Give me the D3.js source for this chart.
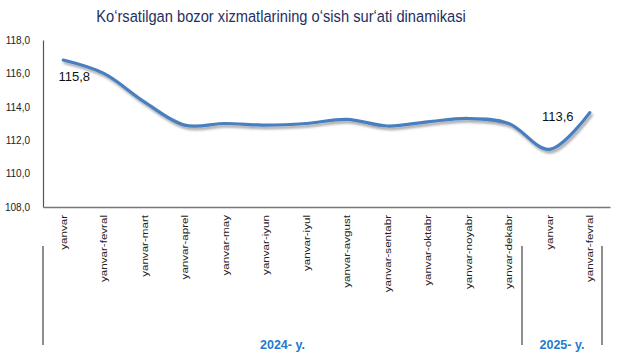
<!DOCTYPE html>
<html>
<head>
<meta charset="utf-8">
<script src="https://cdn.jsdelivr.net/npm/d3@7"></script>
<style>
  body { margin: 0; background: #fff; }
  svg { font-family: "Liberation Sans", Arial, sans-serif; }
</style>
</head>
<body>
<svg id="chart"></svg>
<script>
// chart data
const categories = ["yanvar", "yanvar-fevral", "yanvar-mart", "yanvar-aprel", "yanvar-may", "yanvar-iyun",
  "yanvar-iyul", "yanvar-avgust", "yanvar-sentabr", "yanvar-oktabr", "yanvar-noyabr", "yanvar-dekabr",
  "yanvar", "yanvar-fevral"];
const values = [116.8, 116.0, 114.3, 112.9, 113.0, 112.9, 113.0, 113.25, 112.85, 113.1, 113.3, 113.0, 111.45, 113.65];
const yTicks = [108, 110, 112, 114, 116, 118];
const annotations = [{i: 0, text: "115,8"}, {i: 13, text: "113,6"}];
const groups = [{label: "2024- y.", from: 0, to: 12}, {label: "2025- y.", from: 12, to: 14}];
const title = "Ko‘rsatilgan bozor xizmatlarining o‘sish sur‘ati dinamikasi";

const width = 617, height = 364;
const margin = {top: 40, right: 10, bottom: 157, left: 43};
const innerW = width - margin.left - margin.right;
const innerH = height - margin.top - margin.bottom;

let svg = d3.select("#chart").attr("width", width).attr("height", height);

let defs = svg.append("defs");
let filter = defs.append("filter").attr("id", "shadow")
  .attr("x", "-10%").attr("y", "-20%").attr("width", "120%").attr("height", "160%");
filter.append("feDropShadow")
  .attr("dx", 1.5).attr("dy", 2.5).attr("stdDeviation", 1.3)
  .attr("flood-color", "#000").attr("flood-opacity", 0.35);

// title (source text is a bit condensed horizontally)
svg.append("text")
  .attr("transform", "translate(281,22) scale(0.89,1)")
  .attr("text-anchor", "middle")
  .attr("font-size", "16.5px")
  .attr("fill", "#1f2f5f")
  .text(title);

let chart = svg.append("g").attr("transform", `translate(${margin.left},${margin.top})`);

let x = d3.scaleBand().domain(d3.range(categories.length)).range([0, innerW + 3]);
let y = d3.scaleLinear().domain([108, 118]).range([innerH, 0]);

// y axis
let yAxis = d3.axisLeft(y).tickValues(yTicks).tickSize(0).tickPadding(13)
  .tickFormat(d => d3.format(".1f")(d).replace(".", ","));
let yG = chart.append("g").call(yAxis);
yG.select(".domain").attr("stroke", "#555").attr("stroke-width", 1.2);
yG.selectAll("text").attr("font-size", "10px").attr("fill", "#222")
  .attr("font-family", "Liberation Sans, Arial, sans-serif");

// x axis
let xAxis = d3.axisBottom(x).tickSize(0).tickFormat(i => categories[i]);
let xG = chart.append("g").attr("transform", `translate(0,${innerH})`).call(xAxis);
xG.select(".domain").attr("stroke", "#777").attr("stroke-width", 1.5);
xG.selectAll("text")
  .attr("font-size", "11.6px").attr("fill", "#222")
  .attr("font-family", "Liberation Sans, Arial, sans-serif")
  .attr("transform", "rotate(-90) scale(1,0.85)")
  .attr("text-anchor", "end")
  .attr("x", -8).attr("y", 0).attr("dy", "0.35em");

// line
let line = d3.line()
  .x((d, i) => x(i) + x.bandwidth() / 2)
  .y(d => y(d))
  .curve(d3.curveCatmullRom.alpha(0.5));

chart.append("path")
  .datum(values)
  .attr("d", line)
  .attr("fill", "none")
  .attr("stroke", "#4a7ebf")
  .attr("stroke-width", 3.2)
  .attr("stroke-linecap", "round")
  .attr("filter", "url(#shadow)");

// data labels
chart.selectAll(".dlabel")
  .data(annotations)
  .join("text")
  .attr("class", "dlabel")
  .attr("x", d => x(d.i) + x.bandwidth() / 2 + (d.i === 0 ? 11 : -32))
  .attr("y", d => y(values[d.i]) + (d.i === 0 ? 21 : 8))
  .attr("text-anchor", "middle")
  .attr("font-size", "13px")
  .attr("fill", "#111")
  .text(d => d.text);

// group separators and labels
let sepTop = innerH + 39, sepBottom = innerH + 138;
let sepX = [0, x(12) - 7, x(13) + x.bandwidth() - 8];
chart.selectAll(".sep")
  .data(sepX)
  .join("line")
  .attr("class", "sep")
  .attr("x1", d => d).attr("x2", d => d)
  .attr("y1", sepTop).attr("y2", sepBottom)
  .attr("stroke", "#444").attr("stroke-width", 1.2);

chart.selectAll(".glabel")
  .data(groups)
  .join("text")
  .attr("class", "glabel")
  .attr("x", d => d.from === 0 ? (sepX[0] + sepX[1]) / 2 : (sepX[1] + sepX[2]) / 2)
  .attr("y", innerH + 142)
  .attr("text-anchor", "middle")
  .attr("font-size", "12.5px")
  .attr("font-weight", "bold")
  .attr("fill", "#1f7ad0")
  .text(d => d.label);
</script>
</body>
</html>
